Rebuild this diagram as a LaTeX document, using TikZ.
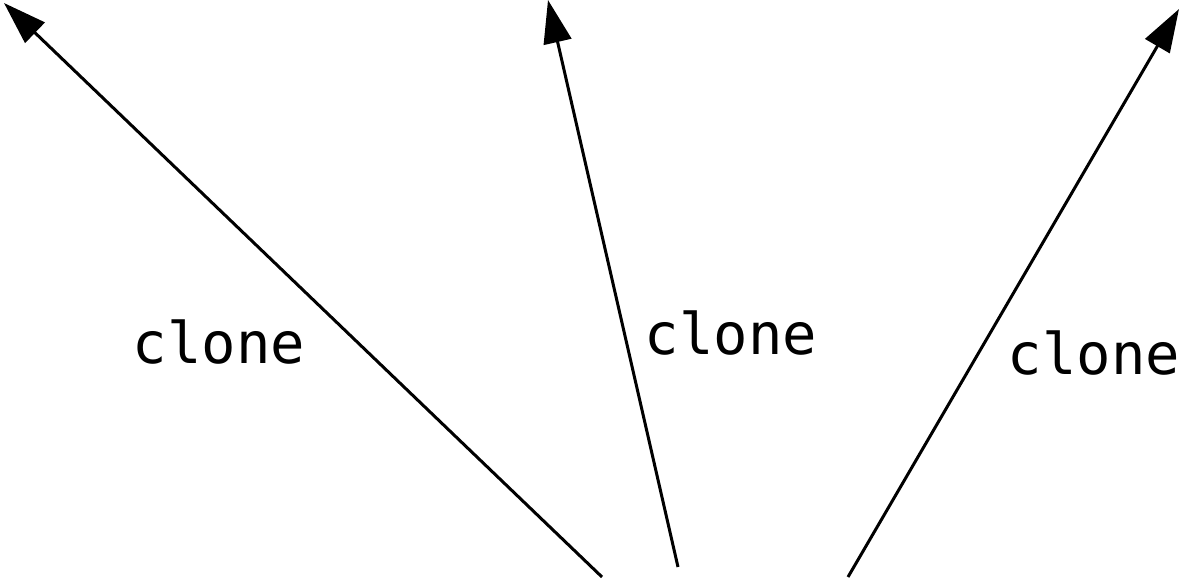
\documentclass[tikz,border=0pt]{standalone}
\usepackage{fontspec}
\setmonofont{DejaVu Sans Mono}
\usetikzlibrary{arrows.meta}
\begin{document}
\begin{tikzpicture}[x=0.5pt,y=-0.5pt,
  clonearrow/.style={line width=1.5pt,-{Triangle[length=21.5pt,width=14pt]}},
  lbl/.style={font=\fontsize{28.6}{30}\selectfont\ttfamily,inner sep=0pt}]
\useasboundingbox (0,0) rectangle (1180,579);
\coordinate (s1) at (602,577);
\coordinate (t1) at (4,3);
\coordinate (s2) at (678,567);
\coordinate (t2) at (548,0);
\coordinate (s3) at (848,577);
\coordinate (t3) at (1179,9);
\draw[clonearrow] (s1) -- (t1);
\draw[clonearrow] (s2) -- (t2);
\draw[clonearrow] (s3) -- (t3);
\node[lbl] (l1) at (219,342) {clone};
\node[lbl] (l2) at (731,333) {clone};
\node[lbl] (l3) at (1094,353) {clone};
\end{tikzpicture}
\end{document}
